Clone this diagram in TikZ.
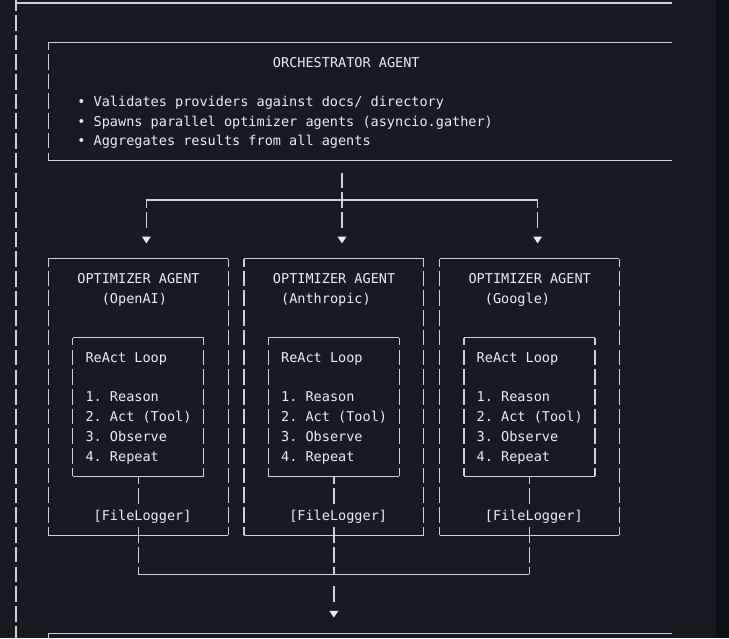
\documentclass[tikz,border=0pt]{standalone}
\usepackage{fontspec}
\newfontfamily\mono{DejaVu Sans Mono}
\usetikzlibrary{arrows.meta,fit}
\frenchspacing

\definecolor{bgcode}{HTML}{161B22}
\definecolor{bgside}{HTML}{0D1117}
\definecolor{rule}{HTML}{C9D1D9}
\definecolor{fg}{HTML}{E6EDF3}

\newcommand{\codefont}{\mono\fontsize{10.15}{12}\selectfont}
% box edges: solid rows, broken columns
\newcommand{\asciibox}[1]{%
  \draw[hbar] (#1.north west) -- (#1.north east) (#1.south west) -- (#1.south east);
  \draw[vbar] (#1.north west) -- (#1.south west) (#1.north east) -- (#1.south east);}

\begin{document}
\begin{tikzpicture}[x=6.1125pt, y=-14.775pt,
    every node/.style={font=\codefont, text=fg},
    txt/.style={anchor=base west, inner sep=0pt, yshift=-3.7pt},
    logger/.style={inner xsep=0pt, inner ysep=3pt, text height=7pt, text depth=0pt},
    boxfit/.style={fit={#1}, inner sep=0pt},
    hbar/.style={draw=rule, line width=0.8pt},
    vbar/.style={draw=rule, line width=1pt, dash pattern=on 11.7pt off 3.075pt, dash phase=5.85pt},
    vbarlow/.style={vbar, dash phase=12.55pt},
    downtip/.style={-{Triangle[width=6.3pt,length=5pt,color=fg]}},
    fanmid/.style={draw=rule, line width=1pt, downtip, dash pattern=on 0pt off 8.925pt on 11.7pt off 3.075pt on 11.7pt off 3.075pt on 11.7pt off 40pt},
    fanside/.style={draw=rule, line width=1pt, downtip, dash pattern=on 5.85pt off 3.075pt on 11.7pt off 40pt},
    drop/.style={draw=rule, line width=1pt, downtip, dash pattern=on 0pt off 8.925pt on 11.7pt off 40pt}]

  \fill[bgcode] (-1.963,-0.1523) rectangle (85.89,32.234);
  \fill[bgside] (85.89,-0.1523) rectangle (87.485,32.234);
  \useasboundingbox (-1.963,-0.1523) rectangle (87.485,32.234);

  % outer frame, cut off at the right
  \coordinate (outerNW) at (0,0);
  \draw[hbar] (outerNW) -- (80.49,0);
  \draw[vbar, dash phase=3.6pt] (0,-0.1523) -- (0,32.234);

  % orchestrator
  \node[boxfit={(4,2) (80.49,8)}] (orch) {};
  \draw[hbar] (orch.north east) -- (orch.north west) (orch.south west) -- (orch.south east);
  \draw[vbar] (orch.north west) -- (orch.south west);
  \node[txt] (orchtitle) at (31.5,3) {ORCHESTRATOR AGENT};
  \node[txt] (bullet1) at (7.5,5) {• Validates providers against docs/ directory};
  \node[txt] (bullet2) at (7.5,6) {• Spawns parallel optimizer agents (asyncio.gather)};
  \node[txt] (bullet3) at (7.5,7) {• Aggregates results from all agents};

  % fan out
  \coordinate (fork) at (40,10);
  \coordinate (tipA) at (16,12.2);
  \coordinate (tipB) at (40,12.2);
  \coordinate (tipC) at (64,12.2);
  \draw[hbar] (fork -| tipA) -- (fork -| tipC);
  \draw[fanmid] (orch.south -| fork) -- (tipB);
  \draw[fanside] (fork -| tipA) -- (tipA);
  \draw[fanside] (fork -| tipC) -- (tipC);

  % optimizer agents
  \foreach \i/\L/\prov/\po in {1/4/OpenAI/7, 2/28/Anthropic/5, 3/52/Google/6} {
    \node[boxfit={(\L,13) (\L+22,27)}] (opt\i) {};
    \asciibox{opt\i}
    \node[txt] (title\i) at (\L+3.5,14) {OPTIMIZER AGENT};
    \node[txt] (prov\i) at (\L+\po-0.5,15) {(\prov)};
    \node[boxfit={(\L+3,17) (\L+19,24)}] (react\i) {};
    \asciibox{react\i}
    \node[txt] (loop\i) at (\L+4.5,18) {ReAct Loop};
    \node[txt] (stepa\i) at (\L+4.5,20) {1. Reason};
    \node[txt] (stepb\i) at (\L+4.5,21) {2. Act (Tool)};
    \node[txt] (stepc\i) at (\L+4.5,22) {3. Observe};
    \node[txt] (stepd\i) at (\L+4.5,23) {4. Repeat};
    \node[txt, logger] (log\i) at (\L+5.5,26) {[FileLogger]};
    \draw[vbar] (react\i.south) -- (react\i.south |- log\i.north);
  }

  % fan in
  \coordinate (join) at (39,29);
  \coordinate (tipD) at (39,31.2);
  \foreach \i in {1,2,3}
    \draw[vbarlow] (react\i.south |- log\i.south) -- (react\i.south |- join);
  \draw[hbar] (react1.south |- join) -- (react3.south |- join);
  \draw[drop] (join) -- (tipD);

  % next box, cut off at the bottom
  \coordinate (nextNW) at (4,32);
  \draw[hbar] (nextNW) -- (80.49,32);
  \draw[vbar] (nextNW) -- (4,32.234);
\end{tikzpicture}
\end{document}
